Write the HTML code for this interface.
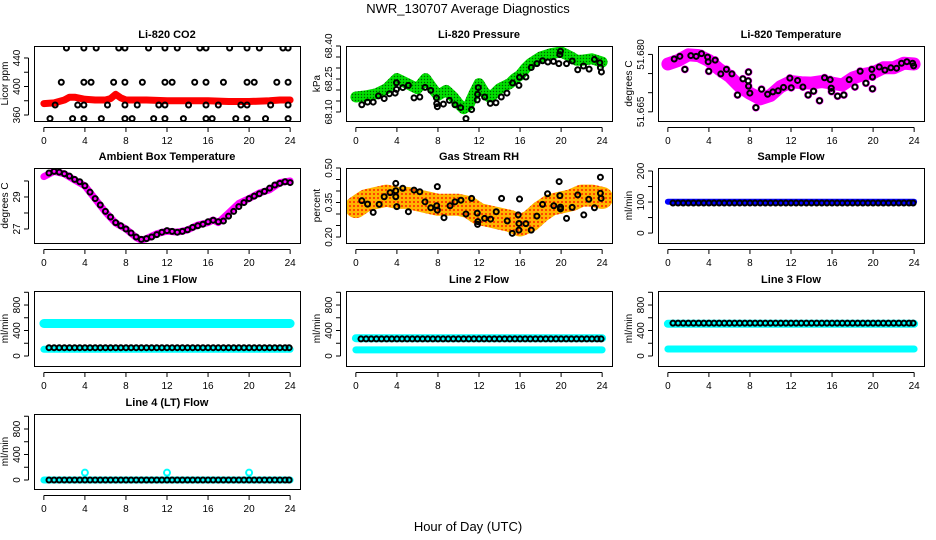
<!DOCTYPE html>
<html><head><meta charset="utf-8"><style>
html,body{margin:0;padding:0;background:#fff;}
svg{display:block;font-family:"Liberation Sans",sans-serif;}
</style></head><body>
<svg id="chart" width="936" height="540" viewBox="0 0 936 540" xmlns="http://www.w3.org/2000/svg">
<defs>
<pattern id="rhdots" width="4" height="4" patternUnits="userSpaceOnUse"><rect width="4" height="4" fill="#ffb400"/><circle cx="2" cy="2" r="1" fill="#ff2000"/></pattern>
<pattern id="grdots" width="3" height="3" patternUnits="userSpaceOnUse"><rect width="3" height="3" fill="#00e000"/><circle cx="1.5" cy="1.5" r="0.7" fill="#006000"/></pattern>
</defs>
<text x="468" y="13" font-size="13" text-anchor="middle">NWR_130707  Average Diagnostics</text>
<text x="468" y="531" font-size="13" text-anchor="middle">Hour of Day (UTC)</text>
</svg>
<script>
// ---------- data ----------
const xTicks = [0,4,8,12,16,20,24];

const co2BandHrs = [0,1,2,2.5,3,4,5,6,6.5,7,7.5,8,10,12,14,16,18,20,22,23,24];
const co2BandVals = [376,377,381,385,385,382,381,381,383,389,384,381,381,380,380,380,379,379,380,381,381];
const co2PtHrs = [2.2,3.9,5.1,7.3,7.9,10.2,11.8,13,15.2,15.8,18.1,19.8,21,23.3,23.8,
 1.7,3.9,4.6,6.8,7.9,9.6,11.8,12.5,14.7,15.8,17.5,19.8,20.5,22.7,23.8,
 1.1,3.3,3.9,6.2,7.9,9.1,11.2,11.8,14.1,15.8,17,19.2,19.8,22.1,23.8,
 0.6,2.8,3.9,5.6,7.9,8.6,10.7,11.8,13.6,15.8,16.4,18.7,19.8,21.6,23.8];
const co2PtVals = [454,454,454,454,454,454,454,454,454,454,454,454,454,454,454,
 406,406,406,406,406,406,406,406,406,406,406,406,406,406,406,
 374,374,374,374,374,374,374,374,374,374,374,374,374,374,374,
 355,355,355,355,355,355,355,355,355,355,355,355,355,355,355];

const presBandHrs = [0,1,2,3,4,5,6,6.8,7.5,8,8.8,9.5,10,10.5,11,11.5,12,12.5,13,13.5,14,15,15.5,16,16.5,17,18,19,20,21,21.5,22,23,24];
const presBandVals = [68.168,68.173,68.183,68.206,68.252,68.229,68.206,68.252,68.206,68.176,68.198,68.168,68.138,68.115,68.130,68.183,68.229,68.191,68.168,68.183,68.206,68.229,68.252,68.267,68.297,68.320,68.350,68.365,68.373,68.350,68.335,68.335,68.342,68.327];
const presPtHrs = [0.58,1.14,1.69,2.2,2.76,3.27,3.83,3.96,3.96,4.57,5.12,5.67,6.23,6.74,7.3,7.85,7.88,7.94,8.53,9.11,9.66,10.21,10.73,11.28,11.83,11.86,11.93,12.55,13.1,13.65,14.17,14.72,15.27,15.89,15.95,16.57,17.09,17.64,18.19,18.71,19.26,19.78,19.88,19.94,20.53,21.08,21.62,22.18,22.73,23.25,23.77,23.83,23.93];
const presPtVals = [68.133,68.145,68.145,68.173,68.161,68.183,68.186,68.233,68.203,68.211,68.221,68.164,68.168,68.212,68.198,68.164,68.138,68.124,68.136,68.153,68.133,68.120,68.070,68.111,68.155,68.180,68.211,68.168,68.139,68.142,68.168,68.186,68.232,68.221,68.258,68.259,68.302,68.320,68.333,68.327,68.330,68.320,68.361,68.376,68.320,68.332,68.292,68.309,68.295,68.339,68.324,68.302,68.282];

const ltBandHrs = [0,1,2,3,4,5,6,7,8,9,10,11,12,13,14,15,16,17,18,19,20,21,22,23,24];
const ltBandVals = [51.6775,51.6784,51.6799,51.6797,51.6784,51.6761,51.6743,51.6716,51.6698,51.6684,51.6693,51.6716,51.6729,51.6726,51.6725,51.6729,51.6725,51.6720,51.6738,51.6747,51.6752,51.6765,51.6765,51.6777,51.6775];
const ltPtHrs = [0.62,1.17,1.66,2.24,2.76,3.28,3.87,3.93,3.99,4.61,5.16,5.71,6.24,6.79,7.31,7.83,7.86,7.86,7.99,8.58,9.13,9.72,10.23,10.75,11.27,11.89,12.02,12.64,13.16,13.67,14.2,14.78,15.27,15.82,15.92,15.95,16.54,17.15,17.67,18.23,18.74,19.3,19.88,19.94,19.94,20.6,21.15,21.73,22.29,22.77,23.29,23.85,23.95];
const ltPtVals = [51.6788,51.6795,51.6761,51.6797,51.6795,51.6802,51.6793,51.6781,51.6756,51.6785,51.6749,51.6761,51.6749,51.6694,51.6736,51.6731,51.6717,51.6754,51.6699,51.6661,51.6709,51.6696,51.6702,51.6705,51.6714,51.6738,51.6713,51.6732,51.6715,51.6694,51.6704,51.6679,51.6739,51.6734,51.6712,51.6703,51.6691,51.6694,51.6734,51.6715,51.6756,51.6725,51.6761,51.6741,51.6710,51.6767,51.6759,51.6765,51.6764,51.6777,51.6781,51.6777,51.6770];

const ambBandHrs = [0,1,2,3,4,5,6,7,8,9,9.5,10,11,12,13,14,15,16,16.5,17,18,19,20,21,22,23,24];
const ambBandVals = [30.27,30.6,30.44,30.06,29.69,28.88,28.06,27.37,27.0,26.46,26.3,26.4,26.7,26.87,26.8,26.94,27.25,27.4,27.56,27.4,28.0,28.6,28.9,29.25,29.45,29.9,30.0];
const ambPtHrs = [0.5,1,1.5,2,2.5,3,3.5,4,4.5,5,5.5,6,6.5,7,7.5,8,8.5,9,9.5,10,10.5,11,11.5,12,12.5,13,13.5,14,14.5,15,15.5,16,16.5,17,17.5,18,18.5,19,19.5,20,20.5,21,21.5,22,22.5,23,23.5,24];
const ambPtVals = [30.5,30.6,30.55,30.45,30.3,30.1,29.95,29.7,29.3,28.9,28.5,28.1,27.75,27.4,27.2,27.0,26.75,26.5,26.35,26.4,26.5,26.65,26.8,26.9,26.85,26.8,26.85,26.95,27.1,27.2,27.3,27.45,27.55,27.45,27.5,27.8,28.1,28.4,28.65,28.9,29.05,29.2,29.35,29.55,29.75,29.85,29.95,29.9];

const rhBandHrs = [0,1,2,3,4,5,6,7,8,9,10,11,12,13,14,15,16,17,18,19,20,21,22,23,24];
const rhBandVals = [0.33,0.36,0.37,0.38,0.37,0.37,0.36,0.35,0.34,0.34,0.34,0.33,0.30,0.29,0.28,0.27,0.25,0.27,0.31,0.34,0.35,0.36,0.38,0.38,0.37];
const rhPtHrs = [0.58,1.14,1.69,2.27,2.76,3.34,3.89,3.89,3.89,3.99,4.57,5.12,5.67,6.23,6.74,7.30,7.88,7.94,7.94,8.59,9.18,9.66,10.24,10.73,11.28,11.83,11.86,11.89,12.55,13.13,13.68,14.2,14.75,15.24,15.82,15.89,15.89,15.95,16.57,17.09,17.64,18.19,18.68,19.29,19.81,19.88,19.94,19.94,20.53,21.08,21.62,22.21,22.7,23.25,23.83,23.83,23.9];
const rhPtVals = [0.358,0.343,0.307,0.342,0.375,0.393,0.433,0.401,0.375,0.332,0.412,0.310,0.404,0.397,0.353,0.327,0.336,0.419,0.317,0.284,0.336,0.353,0.360,0.300,0.368,0.304,0.255,0.267,0.281,0.278,0.310,0.368,0.270,0.216,0.296,0.259,0.230,0.365,0.258,0.230,0.291,0.342,0.388,0.336,0.441,0.380,0.330,0.322,0.281,0.329,0.383,0.296,0.364,0.327,0.460,0.390,0.368];

const flowPtHrs = [0.5,1,1.5,2,2.5,3,3.5,4,4.5,5,5.5,6,6.5,7,7.5,8,8.5,9,9.5,10,10.5,11,11.5,12,12.5,13,13.5,14,14.5,15,15.5,16,16.5,17,17.5,18,18.5,19,19.5,20,20.5,21,21.5,22,22.5,23,23.5,23.9];
const sampleBandVal = 101;
const samplePtVal = 97;
const line1Upper = 510, line1Lower = 105, line1Pt = 130;
const line2Upper = 280, line2Lower = 95, line2Pt = 268;
const line3Upper = 505, line3Lower = 110, line3Pt = 515;
const line4Base = 0, line4Pt = 0;
const line4OutlierHrs = [4,12,20];
const line4OutlierVals = [115,115,115];

// ---------- layout ----------
const NS = "http://www.w3.org/2000/svg";
const svg = document.getElementById('chart');
const colLeft = [34, 346, 658];
const rowTop = [46, 168, 291, 414];
const BW = 266, BH = 75;
function mk(tag, attrs, parent){ const e=document.createElementNS(NS,tag); for(const k in attrs) e.setAttribute(k,attrs[k]); (parent||svg).appendChild(e); return e; }

function makePanel(p){
  const g = mk('g',{});
  
  
  const L = colLeft[p.col], T = rowTop[p.row];
  const X = h => L + (h + 0.96) * (BW / 25.92);
  const Y = v => T + BH - (v - p.ymin) / (p.ymax - p.ymin) * BH;
  const clipId = 'clip' + p.name;
  const cp = mk('clipPath',{id:clipId}, g); mk('rect',{x:L,y:T,width:BW,height:BH},cp);
  const plot = mk('g',{'clip-path':'url(#'+clipId+')'}, g);
  return {g, plot, X, Y, L, T};
}
function axes(P, p){
  const {g, X, Y, L, T} = P;
  const box = mk('rect',{x:L+0.5,y:T+0.5,width:BW,height:BH,fill:'none',stroke:'#000','stroke-width':1},g);
  
  
  const title = mk('text',{x:L+BW/2,y:T-8,'font-size':11,'font-weight':'bold','text-anchor':'middle'},g);
  title.textContent = p.title;
  
  
  mk('line',{x1:X(0),x2:X(24),y1:T+BH+6.5,y2:T+BH+6.5,stroke:'#000'},g);
  xTicks.forEach(t=>{
    mk('line',{x1:X(t),x2:X(t),y1:T+BH+6.5,y2:T+BH+11,stroke:'#000'},g);
    const tx = mk('text',{x:X(t),y:T+BH+23,'font-size':10,'text-anchor':'middle'},g);
    tx.textContent = t;
    
    
  });
  const y0 = Y(p.ticks[0]), y1 = Y(p.ticks[p.ticks.length-1]);
  mk('line',{x1:L-5.5,x2:L-5.5,y1:Math.min(y0,T+BH),y2:Math.max(y1,T),stroke:'#000'},g);
  p.ticks.forEach(t=>{
    const yy = Y(t); if (yy < T-1 || yy > T+BH+1) return;
    mk('line',{x1:L-10,x2:L-5.5,y1:yy,y2:yy,stroke:'#000'},g);
  });
  p.labels.forEach(t=>{
    const yy = Y(t);
    const tx = mk('text',{x:L-14,y:yy,'font-size':10,'text-anchor':'middle',transform:'rotate(-90 '+(L-14)+' '+yy+')'},g);
    tx.textContent = p.fmt ? p.fmt(t) : t;
    
    
  });
  const yt = mk('text',{x:L-26,y:T+BH/2,'font-size':10,'text-anchor':'middle',transform:'rotate(-90 '+(L-26)+' '+(T+BH/2)+')'},g);
  yt.textContent = p.ylab;
  
  
}
function band(P, hrs, vals, color, w, name){
  const pts = hrs.map((h,i)=>P.X(h).toFixed(1)+','+P.Y(vals[i]).toFixed(1)).join(' ');
  const pl = mk('polyline',{points:pts,fill:'none',stroke:color,'stroke-width':w,'stroke-linejoin':'round','stroke-linecap':'round'},P.plot);
  
  
}
function flat(P, v, color, w, name){ band(P,[0,24],[v,v],color,w,name); }
function points(P, hrs, vals, color, name, r){
  hrs.forEach((h,i)=>{
    const c = mk('circle',{cx:P.X(h),cy:P.Y(vals[i]),r:r||2.5,fill:'none',stroke:color,'stroke-width':2},P.plot);
    
    
  });
}

let p = {name:'co2-panel',col:0,row:0,title:'Li-820 CO2',ylab:'Licor ppm',ymin:351.6,ymax:456.8,ticks:[360,380,400,420,440],labels:[360,400,440]};
let P = makePanel(p);
band(P, co2BandHrs, co2BandVals, '#ff0000', 7, 'co2-band');
points(P, co2PtHrs, co2PtVals, '#000', 'co2-point');
axes(P,p);
p = {name:'pressure-panel',col:1,row:0,title:'Li-820 Pressure',ylab:'kPa',ymin:68.059,ymax:68.40,ticks:[68.10,68.15,68.20,68.25,68.30,68.35,68.40],labels:[68.10,68.25,68.40],fmt:v=>v.toFixed(2)};
P = makePanel(p);
band(P, presBandHrs, presBandVals, 'url(#grdots)', 11, 'pressure-band');
points(P, presPtHrs, presPtVals, '#000', 'pressure-point');
axes(P,p);
p = {name:'licor-temp-panel',col:2,row:0,title:'Li-820 Temperature',ylab:'degrees C',ymin:51.6626,ymax:51.6822,ticks:[51.665,51.670,51.675,51.680],labels:[51.665,51.680],fmt:v=>v.toFixed(3)};
P = makePanel(p);
band(P, ltBandHrs, ltBandVals, '#ff00ff', 13, 'licor-temp-band');
points(P, ltPtHrs, ltPtVals, '#ff00ff', 'licor-temp-scatter', 3);
points(P, ltPtHrs, ltPtVals, '#000', 'licor-temp-point');
axes(P,p);
p = {name:'ambient-temp-panel',col:0,row:1,title:'Ambient Box Temperature',ylab:'degrees C',ymin:26.125,ymax:30.81,ticks:[27,28,29,30],labels:[27,29]};
P = makePanel(p);
band(P, ambBandHrs, ambBandVals, '#ff00ff', 7, 'ambient-band');
points(P, ambPtHrs, ambPtVals, '#000', 'ambient-point');
axes(P,p);
p = {name:'rh-panel',col:1,row:1,title:'Gas Stream RH',ylab:'percent',ymin:0.174,ymax:0.50,ticks:[0.20,0.25,0.30,0.35,0.40,0.45,0.50],labels:[0.20,0.35,0.50],fmt:v=>v.toFixed(2)};
P = makePanel(p);
band(P, rhBandHrs, rhBandVals, 'url(#rhdots)', 22, 'rh-band');
points(P, rhPtHrs, rhPtVals, '#000', 'rh-point');
axes(P,p);
p = {name:'sample-flow-panel',col:2,row:1,title:'Sample Flow',ylab:'ml/min',ymin:-32,ymax:209.7,ticks:[0,50,100,150,200],labels:[0,100,200]};
P = makePanel(p);
flat(P, sampleBandVal, '#0000ff', 6, 'sample-flow-band');
points(P, flowPtHrs, flowPtHrs.map(()=>samplePtVal), '#000', 'sample-flow-point');
axes(P,p);
const flowTicks=[0,200,400,600,800,1000], flowLabels=[0,400,800];
p = {name:'line1-flow-panel',col:0,row:2,title:'Line 1 Flow',ylab:'ml/min',ymin:-157,ymax:1020,ticks:flowTicks,labels:flowLabels};
P = makePanel(p);
flat(P, line1Upper, '#00ffff', 9, 'line1-upper-band');
flat(P, line1Lower, '#00ffff', 7, 'line1-lower-band');
points(P, flowPtHrs, flowPtHrs.map(()=>line1Pt), '#000', 'line1-point');
axes(P,p);
p = {name:'line2-flow-panel',col:1,row:2,title:'Line 2 Flow',ylab:'ml/min',ymin:-157,ymax:1020,ticks:flowTicks,labels:flowLabels};
P = makePanel(p);
flat(P, line2Upper, '#00ffff', 8, 'line2-upper-band');
flat(P, line2Lower, '#00ffff', 7, 'line2-lower-band');
points(P, flowPtHrs, flowPtHrs.map(()=>line2Pt), '#000', 'line2-point');
axes(P,p);
p = {name:'line3-flow-panel',col:2,row:2,title:'Line 3 Flow',ylab:'ml/min',ymin:-157,ymax:1020,ticks:flowTicks,labels:flowLabels};
P = makePanel(p);
flat(P, line3Upper, '#00ffff', 8, 'line3-upper-band');
flat(P, line3Lower, '#00ffff', 7, 'line3-lower-band');
points(P, flowPtHrs, flowPtHrs.map(()=>line3Pt), '#000', 'line3-point');
axes(P,p);
p = {name:'line4-flow-panel',col:0,row:3,title:'Line 4 (LT) Flow',ylab:'ml/min',ymin:-141,ymax:1035,ticks:flowTicks,labels:flowLabels};
P = makePanel(p);
flat(P, line4Base, '#00ffff', 7, 'line4-band');
points(P, line4OutlierHrs, line4OutlierVals, '#00ffff', 'line4-outlier', 3);
points(P, flowPtHrs, flowPtHrs.map(()=>line4Pt), '#000', 'line4-point');
axes(P,p);
</script>
</body></html>
